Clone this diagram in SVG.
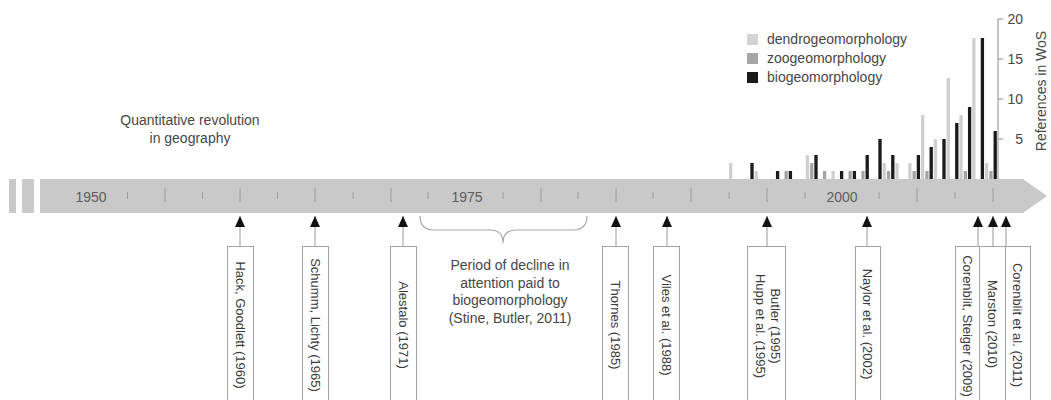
<svg xmlns="http://www.w3.org/2000/svg" width="1051" height="400" viewBox="0 0 1051 400">
<defs>
<style>
.t{font-family:"Liberation Sans",Arial,sans-serif;font-size:14px;fill:#474747}
.yr{font-family:"Liberation Sans",Arial,sans-serif;font-size:14px;fill:#5e5e5e}
.v{font-family:"Liberation Sans",Arial,sans-serif;font-size:13px;fill:#3a3a3a}
.box{fill:#fff;stroke:#a3a3a3;stroke-width:1}
.conn{stroke:#a8a8a8;stroke-width:1.2;fill:none}
.tk{stroke:#9c9c9c;stroke-width:1}
.ax{stroke:#8c8c8c;stroke-width:1;fill:none}
.band{fill:#c9c9c9}
.L{fill:#cfcfcf}
.G{fill:#a4a4a4}
.B{fill:#1a1a1a}
</style>
<marker id="ah" markerUnits="userSpaceOnUse" markerWidth="11" markerHeight="10" refX="11" refY="5" orient="auto" viewBox="0 0 11 10">
<path d="M0,0 L11,5 L0,10 z" fill="#111"/>
</marker>
</defs>
<rect width="1051" height="400" fill="#fff"/>

<!-- timeline band -->
<g id="timeline">
<rect class="band" x="9" y="179" width="7" height="34"/>
<rect class="band" x="22" y="179" width="12" height="34"/>
<path class="band" d="M40,179 L1023,179 L1047,196 L1023,213 L40,213 Z"/>
<g class="tk">
<line x1="127.5" y1="192" x2="127.5" y2="199"/>
<line x1="165" y1="188" x2="165" y2="202"/>
<line x1="202.5" y1="192" x2="202.5" y2="199"/>
<line x1="240" y1="188" x2="240" y2="202"/>
<line x1="277.5" y1="192" x2="277.5" y2="199"/>
<line x1="315" y1="188" x2="315" y2="202"/>
<line x1="353" y1="192" x2="353" y2="199"/>
<line x1="391" y1="188" x2="391" y2="202"/>
<line x1="428" y1="192" x2="428" y2="199"/>
<line x1="503" y1="192" x2="503" y2="199"/>
<line x1="541" y1="188" x2="541" y2="202"/>
<line x1="578" y1="192" x2="578" y2="199"/>
<line x1="616" y1="188" x2="616" y2="202"/>
<line x1="653" y1="192" x2="653" y2="199"/>
<line x1="691" y1="188" x2="691" y2="202"/>
<line x1="729" y1="192" x2="729" y2="199"/>
<line x1="767" y1="188" x2="767" y2="202"/>
<line x1="805" y1="192" x2="805" y2="199"/>
<line x1="879" y1="192" x2="879" y2="199"/>
<line x1="917" y1="188" x2="917" y2="202"/>
<line x1="955" y1="192" x2="955" y2="199"/>
<line x1="993" y1="188" x2="993" y2="202"/>
</g>
<text class="yr" x="91" y="201.5" text-anchor="middle">1950</text>
<text class="yr" x="467" y="201.5" text-anchor="middle">1975</text>
<text class="yr" x="842" y="201.5" text-anchor="middle">2000</text>
</g>

<!-- chart -->
<g id="chart">
<g class="L">
<rect x="729" y="163" width="3.3" height="16"/>
<rect x="754.6" y="171" width="3.3" height="8"/>
<rect x="805.8" y="155" width="3.3" height="24"/>
<rect x="831.4" y="171" width="3.3" height="8"/>
<rect x="882.6" y="163" width="3.3" height="16"/>
<rect x="895.4" y="163" width="3.3" height="16"/>
<rect x="908.2" y="163" width="3.3" height="16"/>
<rect x="921" y="115" width="3.3" height="64"/>
<rect x="933.8" y="139" width="3.3" height="40"/>
<rect x="946.6" y="78" width="3.3" height="101"/>
<rect x="959.4" y="115" width="3.3" height="64"/>
<rect x="972.2" y="38" width="3.3" height="141"/>
<rect x="985" y="163" width="3.3" height="16"/>
</g>
<g class="G">
<rect x="784.5" y="171" width="3.3" height="8"/>
<rect x="810.1" y="163" width="3.3" height="16"/>
<rect x="822.9" y="171" width="3.3" height="8"/>
<rect x="848.5" y="171" width="3.3" height="8"/>
<rect x="861.3" y="171" width="3.3" height="8"/>
<rect x="886.9" y="171" width="3.3" height="8"/>
<rect x="912.5" y="171" width="3.3" height="8"/>
<rect x="925.3" y="171" width="3.3" height="8"/>
<rect x="963.7" y="171" width="3.3" height="8"/>
<rect x="989.3" y="171" width="3.3" height="8"/>
</g>
<g class="B">
<rect x="750.35" y="163" width="3.3" height="16"/>
<rect x="775.95" y="171" width="3.3" height="8"/>
<rect x="788.75" y="171" width="3.3" height="8"/>
<rect x="814.35" y="155" width="3.3" height="24"/>
<rect x="839.95" y="171" width="3.3" height="8"/>
<rect x="852.75" y="171" width="3.3" height="8"/>
<rect x="865.55" y="155" width="3.3" height="24"/>
<rect x="878.35" y="139" width="3.3" height="40"/>
<rect x="891.15" y="155" width="3.3" height="24"/>
<rect x="916.75" y="155" width="3.3" height="24"/>
<rect x="929.55" y="147" width="3.3" height="32"/>
<rect x="942.35" y="139" width="3.3" height="40"/>
<rect x="955.15" y="123" width="3.3" height="56"/>
<rect x="967.95" y="107" width="3.3" height="72"/>
<rect x="980.75" y="38" width="3.3" height="141"/>
<rect x="993.55" y="131" width="3.3" height="48"/>
</g>
<path class="ax" d="M1003,19 H998 V179 M998,59 H1003 M998,99 H1003 M998,139 H1003"/>
<text class="t" x="1023" y="24" text-anchor="end">20</text>
<text class="t" x="1023" y="64" text-anchor="end">15</text>
<text class="t" x="1023" y="104" text-anchor="end">10</text>
<text class="t" x="1023" y="144" text-anchor="end">5</text>
<text class="t" transform="translate(1046,91) rotate(-90)" text-anchor="middle">References in WoS</text>
<rect x="747" y="34" width="11" height="11" fill="#d3d3d3"/>
<rect x="747" y="53" width="11" height="11" fill="#a6a6a6"/>
<rect x="747" y="72" width="11" height="11" fill="#1a1a1a"/>
<text class="t" x="767" y="44">dendrogeomorphology</text>
<text class="t" x="767" y="63">zoogeomorphology</text>
<text class="t" x="767" y="82">biogeomorphology</text>
</g>

<!-- annotations -->
<g id="quant">
<text class="t" x="190" y="125" text-anchor="middle">Quantitative revolution</text>
<text class="t" x="190" y="142.5" text-anchor="middle">in geography</text>
</g>
<g id="decline">
<path class="conn" d="M420,216 Q420,230 434,230 L490,230 Q503,230 503,243 Q503,230 516,230 L573,230 Q587,230 587,216"/>
<text class="t" x="510" y="270" text-anchor="middle">Period of decline in</text>
<text class="t" x="510" y="287.5" text-anchor="middle">attention paid to</text>
<text class="t" x="510" y="305" text-anchor="middle">biogeomorphology</text>
<text class="t" x="510" y="323" text-anchor="middle">(Stine, Butler, 2011)</text>
</g>

<!-- connectors -->
<g id="connectors">
<line class="conn" x1="240" y1="246" x2="240" y2="216" marker-end="url(#ah)"/>
<line class="conn" x1="315" y1="246" x2="315" y2="216" marker-end="url(#ah)"/>
<line class="conn" x1="403" y1="246" x2="403" y2="216" marker-end="url(#ah)"/>
<line class="conn" x1="616" y1="246" x2="616" y2="216" marker-end="url(#ah)"/>
<line class="conn" x1="667" y1="246" x2="667" y2="216" marker-end="url(#ah)"/>
<line class="conn" x1="767" y1="246" x2="767" y2="216" marker-end="url(#ah)"/>
<line class="conn" x1="867" y1="246" x2="867" y2="216" marker-end="url(#ah)"/>
<line class="conn" x1="978" y1="246" x2="978" y2="216" marker-end="url(#ah)"/>
<line class="conn" x1="993" y1="246" x2="993" y2="216" marker-end="url(#ah)"/>
<line class="conn" x1="1006" y1="246" x2="1006" y2="216" marker-end="url(#ah)"/>
</g>

<!-- nodes -->
<g id="n-hack">
<rect class="box" x="227.5" y="246.5" width="26" height="160"/>
<text class="v" transform="translate(235.8,325) rotate(90)" text-anchor="middle">Hack, Goodlett (1960)</text>
</g>
<g id="n-schumm">
<rect class="box" x="302.5" y="246.5" width="26" height="160"/>
<text class="v" transform="translate(310.8,325) rotate(90)" text-anchor="middle">Schumm, Lichty (1965)</text>
</g>
<g id="n-alestalo">
<rect class="box" x="390.5" y="246.5" width="26" height="160"/>
<text class="v" transform="translate(398.8,325) rotate(90)" text-anchor="middle">Alestalo (1971)</text>
</g>
<g id="n-thornes">
<rect class="box" x="602.5" y="246.5" width="26" height="160"/>
<text class="v" transform="translate(610.8,325) rotate(90)" text-anchor="middle">Thornes (1985)</text>
</g>
<g id="n-viles">
<rect class="box" x="653.5" y="246.5" width="26" height="160"/>
<text class="v" transform="translate(661.8,325) rotate(90)" text-anchor="middle">Viles et al. (1988)</text>
</g>
<g id="n-butler">
<rect class="box" x="747.5" y="246.5" width="38" height="160"/>
<text class="v" transform="translate(770.8,326) rotate(90)" text-anchor="middle">Butler (1995)</text>
<text class="v" transform="translate(755.8,326) rotate(90)" text-anchor="middle">Hupp et al. (1995)</text>
</g>
<g id="n-naylor">
<rect class="box" x="855.5" y="246.5" width="25" height="160"/>
<text class="v" transform="translate(863.3,324) rotate(90)" text-anchor="middle">Naylor et al. (2002)</text>
</g>
<g id="n-corenblit-steiger">
<rect class="box" x="955.5" y="246.5" width="24" height="160"/>
<text class="v" transform="translate(962.8,326) rotate(90)" text-anchor="middle">Corenblit, Steiger (2009)</text>
</g>
<g id="n-marston">
<rect class="box" x="979.5" y="246.5" width="26" height="160"/>
<text class="v" transform="translate(987.8,324) rotate(90)" text-anchor="middle">Marston (2010)</text>
</g>
<g id="n-corenblit">
<rect class="box" x="1005.5" y="246.5" width="25" height="160"/>
<text class="v" transform="translate(1013.3,325) rotate(90)" text-anchor="middle">Corenblit et al. (2011)</text>
</g>
</svg>
